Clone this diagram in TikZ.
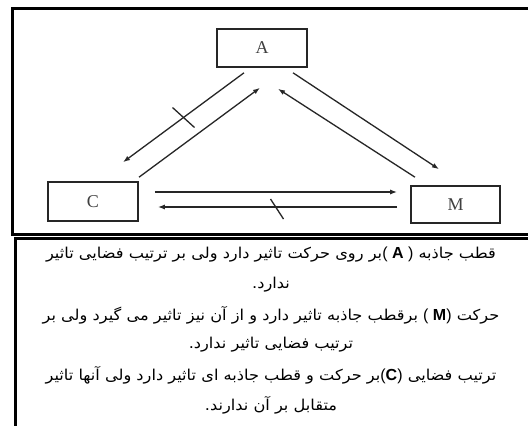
\documentclass[tikz,border=0pt]{standalone}
\usepackage{fontspec}
\setmainfont{Liberation Serif}
\newfontfamily\arabicfont[Script=Arabic,FakeStretch=1.08]{DejaVu Sans}
\newfontfamily\latsans{Liberation Sans}
\TeXXeTstate=1
\usetikzlibrary{arrows.meta}
\tikzset{
  frame/.style={draw=black, line width=3pt},
  box/.style={draw=black!85, line width=1.6pt, minimum width=90pt, minimum height=38pt, inner sep=0pt,
    font=\fontsize{18}{18}\selectfont, text=black!75},
  conn/.style={draw=black!85, line width=1.3pt, -{Latex[length=7pt,width=5pt]}},
  tickmark/.style={draw=black!85, line width=1.3pt},
  ptext/.style={inner sep=0pt, font=\arabicfont\fontsize{15}{17}\selectfont},
}
\newcommand{\LB}[1]{{\latsans\fontsize{16}{17}\selectfont #1}}
\begin{document}
\begin{tikzpicture}[x=1pt,y=-1pt]
\useasboundingbox (0,0) rectangle (528,426);
\fill[white] (0,0) rectangle (528,426);
% frames
\draw[frame] (12,8) rectangle (545,234);
\draw[frame] (15,238.5) rectangle (545,440);
% nodes
\node[box] (A) at (262,48) {A};
\node[box, minimum height=39pt] (C) at (93,201.5) {C};
\node[box, minimum width=89pt, minimum height=37pt] (M) at (455.5,204.5) {M};
% connectors
\draw[conn] ([shift={(-18,5)}]A.south) -- coordinate[pos=0.5] (t1) ([shift={(30,-19)}]C.north);
\draw[conn] ([shift={(46,-4)}]C.north) -- ([shift={(-2,20)}]A.south);
\draw[conn] ([shift={(-40.5,-8)}]M.north) -- ([shift={(16,21)}]A.south);
\draw[conn] ([shift={(31,5)}]A.south) -- ([shift={(-16.5,-16)}]M.north);
\draw[conn] ([shift={(16,-9.5)}]C.east) -- ([shift={(-13,-12.5)}]M.west);
\draw[conn] ([shift={(-13,2.5)}]M.west) -- coordinate[pos=0.5] (t2) ([shift={(19,5.5)}]C.east);
\draw[tickmark] ([shift={(-11,-10)}]t1) -- ([shift={(11,10)}]t1);
\draw[tickmark] ([shift={(-7,-8)}]t2) -- ([shift={(6,12)}]t2);
% text
\node[ptext] (l1) at (271,255) {\beginR قطب جاذبه \beginL\LB{( \textbf{A} )}\endL{}بر روی حرکت تاثیر دارد ولی بر ترتیب فضایی تاثیر\endR};
\node[ptext] (l2) at (271,285) {\beginR ندارد.\endR};
\node[ptext] (l3) at (271,315) {\beginR حرکت \beginL\LB{( \textbf{M})}\endL{} برقطب جاذبه تاثیر دارد و از آن نیز تاثیر می گیرد ولی بر\endR};
\node[ptext] (l4) at (271,345) {\beginR ترتیب فضایی تاثیر ندارد.\endR};
\node[ptext] (l5) at (271,375) {\beginR ترتیب فضایی \beginL\LB{(\textbf{C})}\endL{}بر حرکت و قطب جاذبه ای تاثیر دارد ولی آنها تاثیر\endR};
\node[ptext] (l6) at (271,405) {\beginR متقابل بر آن ندارند.\endR};
\end{tikzpicture}
\end{document}
